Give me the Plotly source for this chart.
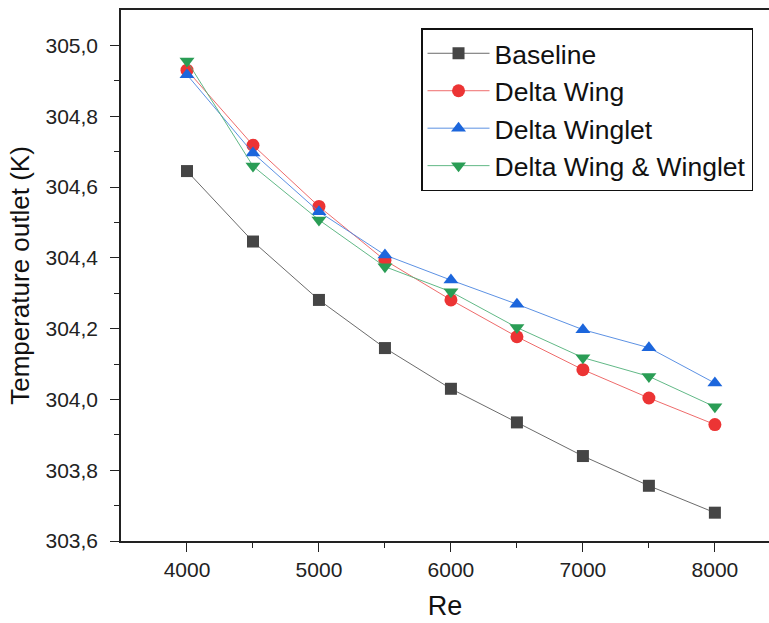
import plotly.graph_objects as go

# Reynolds number and outlet temperature (K) per configuration
re_values = [4000, 4500, 5000, 5500, 6000, 6500, 7000, 7500, 8000]
baseline = [304.645, 304.446, 304.281, 304.145, 304.030, 303.935, 303.840, 303.756, 303.680]
delta_wing = [304.930, 304.718, 304.545, 304.393, 304.281, 304.177, 304.084, 304.004, 303.929]
delta_winglet = [304.917, 304.696, 304.530, 304.408, 304.337, 304.269, 304.197, 304.146, 304.046]
wing_and_winglet = [304.956, 304.659, 304.507, 304.375, 304.304, 304.203, 304.118, 304.065, 303.979]

series = [
    ("Baseline", baseline, "square", "#454545", "#5a5a5a", 12),
    ("Delta Wing", delta_wing, "circle", "#ec3434", "#ec5a5a", 13),
    ("Delta Winglet", delta_winglet, "triangle-up", "#1c66dc", "#4a84e0", 13),
    ("Delta Wing & Winglet", wing_and_winglet, "triangle-down", "#2a9d55", "#4fb078", 13),
]

fig = go.Figure()
for name, ys, symbol, mcolor, lcolor, msize in series:
    fig.add_trace(go.Scatter(
        x=re_values, y=ys, name=name, mode="lines+markers",
        line=dict(color=lcolor, width=0.9),
        marker=dict(symbol=symbol, size=msize, color=mcolor, line=dict(width=0)),
    ))

font_family = "Liberation Sans, Arial, sans-serif"

fig.update_layout(
    width=769, height=623,
    margin=dict(l=121, r=0, t=10, b=82),
    paper_bgcolor="white", plot_bgcolor="white",
    separators=",.",
    font=dict(family=font_family, color="#222222"),
    showlegend=True,
    legend=dict(
        x=0.463, y=0.966, xanchor="left", yanchor="top",
        bgcolor="white", bordercolor="#111111", borderwidth=1.5,
        font=dict(size=26.5, family=font_family, color="#111111"),
        itemwidth=62, tracegroupgap=0,
    ),
)

fig.update_xaxes(
    range=[3500, 8410],
    tickvals=[4000, 5000, 6000, 7000, 8000],
    tickformat="d",
    ticks="outside", ticklen=9, tickwidth=1.4, tickcolor="#222222",
    minor=dict(tickvals=[4500, 5500, 6500, 7500], ticks="outside", ticklen=5,
               tickwidth=1.4, tickcolor="#222222"),
    showline=True, linecolor="#222222", linewidth=1.5, mirror=True,
    showgrid=False, zeroline=False,
    tickfont=dict(size=21, family=font_family, color="#222222"),
    title=dict(text="Re", font=dict(size=27, family=font_family, color="#111111"), standoff=16),
)

fig.update_yaxes(
    range=[303.6, 305.1],
    tickvals=[303.6, 303.8, 304.0, 304.2, 304.4, 304.6, 304.8, 305.0],
    tickformat=".1f",
    ticks="outside", ticklen=9, tickwidth=1.4, tickcolor="#222222",
    minor=dict(tickvals=[303.7, 303.9, 304.1, 304.3, 304.5, 304.7, 304.9],
               ticks="outside", ticklen=5, tickwidth=1.4, tickcolor="#222222"),
    ticklabelstandoff=8,
    showline=True, linecolor="#222222", linewidth=1.5, mirror=False,
    showgrid=False, zeroline=False,
    tickfont=dict(size=21, family=font_family, color="#222222"),
    title=dict(text="Temperature outlet (K)", font=dict(size=26, family=font_family, color="#111111"), standoff=8),
)

fig.write_html("out.html")
